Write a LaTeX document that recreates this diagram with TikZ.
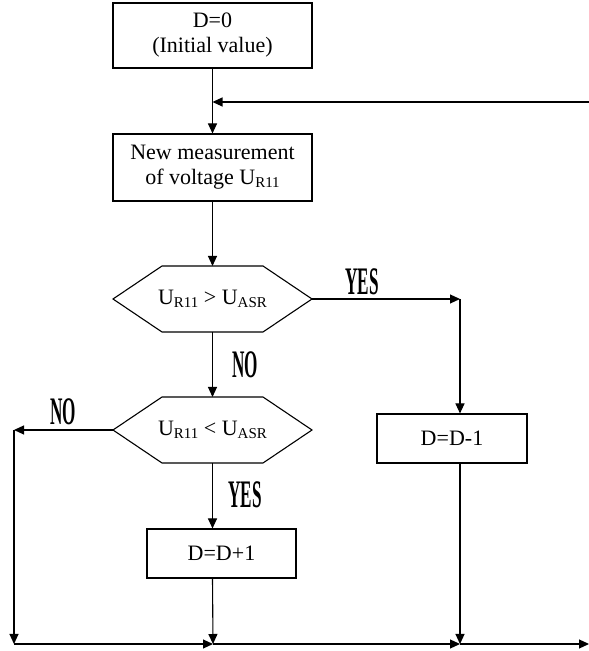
\documentclass[tikz,border=0pt]{standalone}
\usepackage{fontspec}
\setmainfont{Liberation Serif}
\usetikzlibrary{arrows.meta}

\newcommand\sub[1]{\raisebox{-0.12em}{\fontsize{15}{15}\selectfont #1}}
\newcommand\yn[1]{\scalebox{0.44}[1]{\fontsize{39}{39}\selectfont\bfseries #1}}
\newcommand\hexframe[1]{%
  \draw (#1.west) -- ([xshift=49pt]#1.north west) -- ([xshift=-49pt]#1.north east)
    -- (#1.east) -- ([xshift=-49pt]#1.south east) -- ([xshift=49pt]#1.south west) -- cycle;}

\begin{document}
\begin{tikzpicture}[x=1pt,y=1pt,line width=1.1pt,>={Triangle[length=10pt,width=9pt]}]
    \tikzset{box/.style={draw,minimum width=199pt,align=center,inner sep=2pt,font=\fontsize{22}{25}\selectfont}}
    \tikzset{hexa/.style={minimum width=199pt,minimum height=66pt,outer sep=0pt,inner sep=2pt,font=\fontsize{22}{25}\selectfont}}
    \useasboundingbox (0,0) rectangle (589,651);

    \node[box,minimum height=65pt] (init) at (212.5,615.5) {D=0\\(Initial value)};
    \node[box,minimum height=67pt] (meas) at (212.5,483.5) {New measurement\\of voltage U\sub{R11}};
    \node[hexa] (cmpa) at (212.5,352) {U\sub{R11} > U\sub{ASR}};
    \node[hexa] (cmpb) at (212.5,221) {U\sub{R11} < U\sub{ASR}};
    \node[box,minimum width=150pt,minimum height=49pt] (dec) at (452,212.5) {D=D-1};
    \node[box,minimum width=149pt,minimum height=49pt] (inc) at (221.5,97.5) {D=D+1};
    \hexframe{cmpa}
    \hexframe{cmpb}

    \coordinate (back) at (589,549);
    \coordinate (yescrn) at (460,352);
    \coordinate (nocrn) at (14,221);
    \coordinate (nobot) at (14,7);
    \coordinate (incbot) at (213,7);
    \coordinate (decbot) at (460,7);
    \coordinate (outr) at (589,7);

    \draw[->] (init.south) -- (meas.north);
    \draw[->] (back) -- (back -| init.south);
    \draw[->] (meas.south) -- (cmpa.north);
    \draw[->] (cmpa.south) -- (cmpb.north);
    \draw[->] (cmpa.east) -- (yescrn);
    \draw[->] (yescrn) -- (yescrn |- dec.north);
    \draw[->] (cmpb.west) -- (nocrn);
    \draw[->] (nocrn) -- (nobot);
    \draw[->] (cmpb.south) -- (cmpb.south |- inc.north);
    \draw[->] (cmpb.south |- inc.south) -- (incbot);
    \draw[->] (yescrn |- dec.south) -- (decbot);
    \draw[->] (nobot) -- (incbot);
    \draw[->] (incbot) -- (decbot);
    \draw[->] (decbot) -- (outr);

    \node (yesa) at (362,369) {\yn{YES}};
    \node (noa) at (245,286) {\yn{NO}};
    \node (nob) at (63,239) {\yn{NO}};
    \node (yesb) at (245,156) {\yn{YES}};
\end{tikzpicture}
\end{document}
